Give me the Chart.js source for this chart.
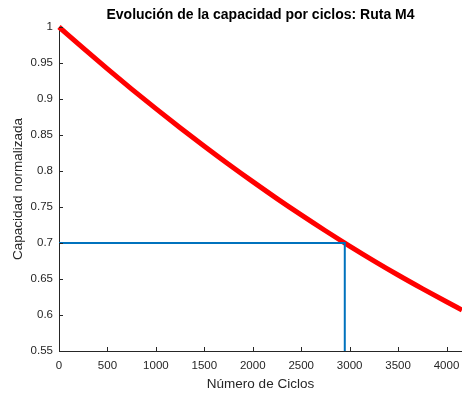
<!DOCTYPE html>
<html>
<head>
<meta charset="utf-8">
<script src="https://cdn.jsdelivr.net/npm/chart.js@4"></script>
<style>
  body { margin: 0; background: #fff; }
</style>
</head>
<body>
<canvas id="myChart" width="462" height="396"></canvas>
<script>
// values
const cycles = [0, 250, 500, 750, 1000, 1250, 1500, 1750, 2000, 2250, 2500, 2750, 3000, 3250, 3500, 3750, 4000, 4160];
const capacity = [1, 0.9705, 0.9418, 0.9138, 0.8866, 0.8601, 0.8344, 0.8094, 0.7852, 0.7617, 0.739, 0.717, 0.6958, 0.6753, 0.6556, 0.6367, 0.6184, 0.607];
const limitX = [0, 2950, 2950];
const limitY = [0.7, 0.7, 0.55];
const xTicks = [0, 500, 1000, 1500, 2000, 2500, 3000, 3500, 4000];
const yTicks = [0.55, 0.6, 0.65, 0.7, 0.75, 0.8, 0.85, 0.9, 0.95, 1];

const axisColor = '#262626';
const fontFamily = "'Liberation Sans', Arial, Helvetica, sans-serif";

// MATLAB style ticks pointing into the plot
const innerTicks = {
  id: 'innerTicks',
  afterDraw(chart) {
    const ctx = chart.ctx;
    const area = chart.chartArea;
    const x = chart.scales.x, y = chart.scales.y;
    ctx.save();
    ctx.strokeStyle = axisColor;
    ctx.lineWidth = 1;
    ctx.beginPath();
    xTicks.forEach(v => {
      const px = Math.round(x.getPixelForValue(v)) + 0.5;
      ctx.moveTo(px, area.bottom);
      ctx.lineTo(px, area.bottom - 4);
    });
    yTicks.forEach(v => {
      const py = Math.round(y.getPixelForValue(v)) + 0.5;
      ctx.moveTo(area.left, py);
      ctx.lineTo(area.left + 4, py);
    });
    ctx.stroke();
    ctx.restore();
  }
};

new Chart(document.getElementById('myChart'), {
  type: 'line',
  data: {
    datasets: [{
      data: limitX.map((v, i) => ({ x: v, y: limitY[i] })),
      borderColor: '#0072BD',
      borderWidth: 2,
      pointRadius: 0,
      tension: 0,
      clip: false
    }, {
      data: cycles.map((v, i) => ({ x: v, y: capacity[i] })),
      borderColor: '#FF0000',
      borderWidth: 5,
      pointRadius: 0,
      cubicInterpolationMode: 'monotone',
      clip: false
    }]
  },
  options: {
    responsive: false,
    animation: false,
    layout: { padding: 0 },
    plugins: {
      legend: { display: false },
      tooltip: { enabled: false },
      title: {
        display: true,
        text: 'Evolución de la capacidad por ciclos: Ruta M4',
        color: '#000',
        fullSize: false,
        font: { family: fontFamily, size: 14, weight: 'bold', lineHeight: 1.2 },
        padding: { top: 6.6, bottom: 3.6 }
      }
    },
    scales: {
      x: {
        type: 'linear',
        min: 0,
        max: 4160,
        afterBuildTicks: s => { s.ticks = xTicks.map(v => ({ value: v })); },
        afterFit: s => { s.height = 45; s.paddingLeft = 0; s.paddingRight = 0; },
        grid: { display: false, drawTicks: false },
        border: { display: true, color: axisColor, width: 1 },
        ticks: {
          color: axisColor,
          padding: 8,
          maxRotation: 0,
          font: { family: fontFamily, size: 11.5 },
          callback: v => String(v)
        },
        title: {
          display: true,
          text: 'Número de Ciclos',
          color: axisColor,
          font: { family: fontFamily, size: 13.5, lineHeight: 1.2 },
          padding: { top: 0, bottom: 3.9 }
        }
      },
      y: {
        type: 'linear',
        min: 0.55,
        max: 1,
        afterBuildTicks: s => { s.ticks = yTicks.map(v => ({ value: v })); },
        afterFit: s => { s.width = 59; s.paddingTop = 0; s.paddingBottom = 0; },
        grid: { display: false, drawTicks: false },
        border: { display: true, color: axisColor, width: 1 },
        ticks: {
          color: axisColor,
          padding: 6,
          font: { family: fontFamily, size: 11.5 },
          callback: v => String(Number(v.toFixed(2)))
        },
        title: {
          display: true,
          text: 'Capacidad normalizada',
          color: axisColor,
          font: { family: fontFamily, size: 13.5, lineHeight: 1.2 },
          padding: { top: 9.9, bottom: 0 }
        }
      }
    }
  },
  plugins: [innerTicks]
});
</script>
</body>
</html>
